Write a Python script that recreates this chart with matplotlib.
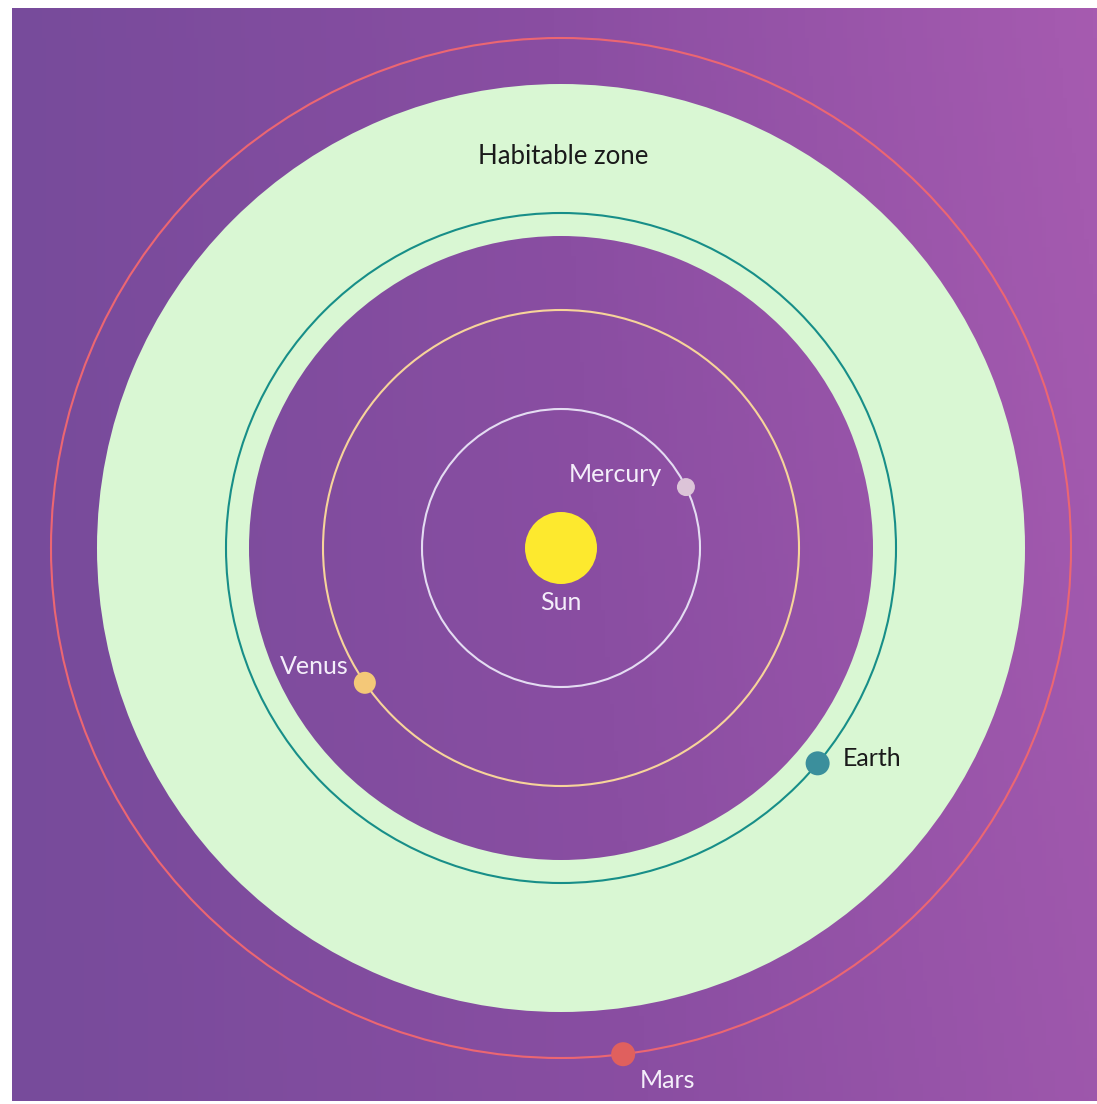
import numpy as np
import matplotlib.pyplot as plt
from matplotlib.patches import Circle, Wedge
from matplotlib.colors import LinearSegmentedColormap

plt.rcParams['font.family'] = ['Lato', 'DejaVu Sans']

# orbit data (radius in image units, planet angle in degrees)
planets = ['Mercury', 'Venus', 'Earth', 'Mars']
orbit_r = [139, 238, 335, 510]
planet_angle = [26, 214.5, -40, -83]
planet_size = [9, 11, 12, 12]
orbit_colors = ['#e4dcf2', '#f7d49a', '#178e88', '#ec6672']
planet_colors = ['#dcc4d8', '#f4c878', '#3b8f9c', '#e0605e']
label_colors = ['#f4eefa', '#f4eefa', '#1a1a1a', '#f4eefa']
label_pos = [(615, 474), (314, 666), (872, 759), (668, 1080)]

hz_inner = 312
hz_outer = 464
sun_r = 36
center = (561, 548)

fig = plt.figure(figsize=(10.97, 11.04), dpi=100)
ax = fig.add_axes([0, 0, 1, 1])
ax.set_xlim(0, 1097)
ax.set_ylim(1104, 0)
ax.axis('off')

# purple background, darker on the left, lightest top right
cmap = LinearSegmentedColormap.from_list('bg', ['#774b9b', '#8a4ea2', '#a65bb0'])
gx = np.linspace(0, 1, 256).reshape(1, -1)
gy = np.linspace(1, 0, 256).reshape(-1, 1)
grad = 0.85 * gx + 0.15 * gx * gy
ax.imshow(grad, cmap=cmap, extent=(12, 1097, 1101, 8), aspect='auto', zorder=0)

cx, cy = center
ax.add_patch(Wedge(center, hz_outer, 0, 360, width=hz_outer - hz_inner,
                   facecolor='#d9f7d3', edgecolor='none', zorder=1))

for r, c in zip(orbit_r, orbit_colors):
    ax.add_patch(Circle(center, r, fill=False, edgecolor=c, lw=1.5, zorder=2))

ax.add_patch(Circle(center, sun_r, facecolor='#fde92e', edgecolor='none', zorder=3))
ax.text(cx, 603, 'Sun', color='#f4eefa', fontsize=18, ha='center', va='center', zorder=4)

for name, r, a, s, pc, lc, (lx, ly) in zip(planets, orbit_r, planet_angle, planet_size,
                                          planet_colors, label_colors, label_pos):
    px = cx + r * np.cos(np.radians(a))
    py = cy - r * np.sin(np.radians(a))
    ax.add_patch(Circle((px, py), s, facecolor=pc, edgecolor='none', zorder=3))
    ax.text(lx, ly, name, color=lc, fontsize=18, ha='center', va='center', zorder=4)

ax.text(563, 156, 'Habitable zone', color='#1a1a1a', fontsize=18.5,
        ha='center', va='center', zorder=4)

plt.savefig('out.png', dpi=100, facecolor='white')
